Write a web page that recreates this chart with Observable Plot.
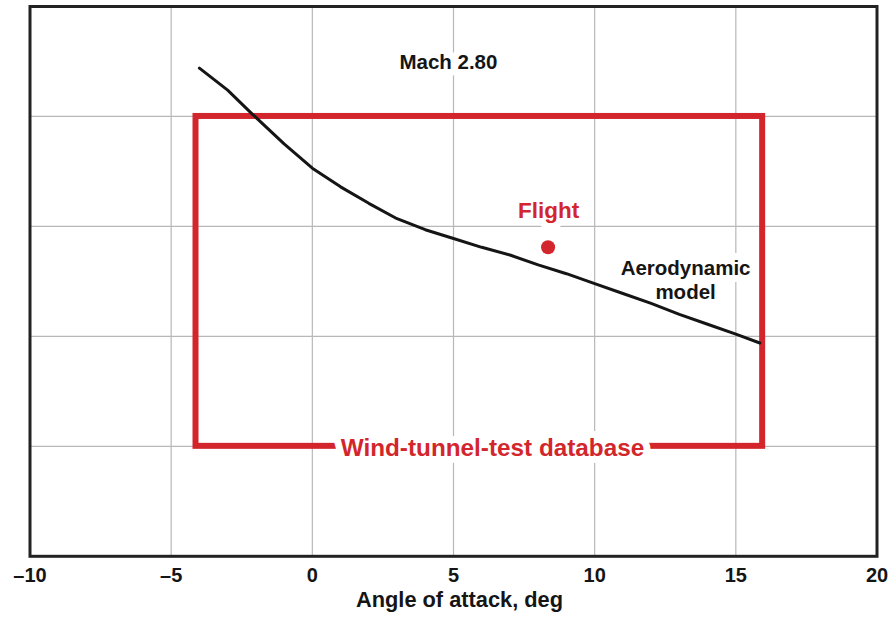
<!DOCTYPE html>
<html>
<head>
<meta charset="utf-8">
<script src="https://cdn.jsdelivr.net/npm/d3@7"></script>
<script src="https://cdn.jsdelivr.net/npm/@observablehq/plot@0.6"></script>
<style>
  body { margin: 0; background: #fff; }
</style>
</head>
<body>
<div id="chart"></div>
<script>
// Aerodynamic-model curve, Mach 2.80: coefficient vs angle of attack (deg)
const modelAlpha = [-4.0, -3.0, -2.2, -1.0, 0, 1, 2, 3, 4, 5, 6, 7, 8, 9, 10, 11, 12, 13, 14, 15, 15.85];
const modelCoef  = [4.44, 4.24, 4.04, 3.75, 3.53, 3.36, 3.21, 3.07, 2.97, 2.89, 2.81, 2.74, 2.65, 2.57, 2.48, 2.39, 2.30, 2.20, 2.11, 2.02, 1.94];

// Flight measurement
const flightAlpha = [8.35];
const flightCoef  = [2.81];

// Extent of the wind-tunnel-test database
const tunnelAlpha = [-4.12, 15.95];
const tunnelCoef  = [1.0, 4.0];

// Axis ticks and grid
const xTicks = [-10, -5, 0, 5, 10, 15, 20];
const yGrid  = [1, 2, 3, 4];

// Annotations
const machText   = ["Mach 2.80"];
const machAt     = [4.82, 4.49];
const flightText = ["Flight"];
const flightAt   = [8.37, 3.14];
const modelText  = ["Aerodynamic\nmodel"];
const modelAt    = [13.22, 2.515];
const tunnelText = ["Wind-tunnel-test database"];
const tunnelAt   = [6.38, 0.985];
const xTitle     = "Angle of attack, deg";

const RED = "#d3262c";
const INK = "#151515";

const model = modelAlpha.map((a, i) => ({alpha: a, coef: modelCoef[i]}));
const flight = flightAlpha.map((a, i) => ({alpha: a, coef: flightCoef[i]}));
const tunnel = [{x1: tunnelAlpha[0], x2: tunnelAlpha[1], y1: tunnelCoef[0], y2: tunnelCoef[1]}];

// Text on a white halo, so it cuts through grid lines and the box outline
const note = (text, at, opts) => Plot.text(text, {
  x: () => at[0], y: () => at[1], text: d => d,
  textAnchor: "middle", lineAnchor: "middle", fontWeight: "bold",
  stroke: "white", strokeWidth: 14, strokeLinejoin: "round", paintOrder: "stroke",
  ...opts
});

const chart = Plot.plot({
  width: 894,
  height: 618,
  marginLeft: 29.5,
  marginRight: 17.5,
  marginTop: 6,
  marginBottom: 62.2,
  style: {fontFamily: "'Liberation Sans', Arial, Helvetica, sans-serif", background: "white", color: INK},
  x: {domain: [-10, 20]},
  y: {domain: [0, 5]},
  marks: [
    Plot.gridX(xTicks, {stroke: "#b8b8b8", strokeOpacity: 1, strokeWidth: 1.2}),
    Plot.gridY(yGrid, {stroke: "#b8b8b8", strokeOpacity: 1, strokeWidth: 1.2}),
    Plot.rect(tunnel, {x1: "x1", x2: "x2", y1: "y1", y2: "y2", fill: "none", stroke: RED, strokeWidth: 6}),
    note(machText, machAt, {fill: INK, fontSize: 20.5}),
    note(flightText, flightAt, {fill: RED, fontSize: 22.5}),
    note(modelText, modelAt, {fill: INK, fontSize: 20.5, lineHeight: 1.17}),
    note(tunnelText, tunnelAt, {fill: RED, fontSize: 24.3}),
    Plot.line(model, {x: "alpha", y: "coef", stroke: INK, strokeWidth: 3}),
    Plot.dot(flight, {x: "alpha", y: "coef", r: 7, fill: RED}),
    Plot.axisX(xTicks, {
      tickSize: 0, tickPadding: 11, fontSize: 20, fontWeight: "bold", fill: INK,
      tickFormat: d => d < 0 ? "\u2013" + Math.abs(d) : String(d),
      label: null
    }),
    Plot.axisY({ticks: [], label: null}),
    Plot.text([xTitle], {frameAnchor: "bottom", dy: 43.5, dx: 6, text: d => d, fontSize: 21.8, fontWeight: "bold", fill: INK, lineAnchor: "middle"}),
    Plot.frame({stroke: "#222", strokeWidth: 3})
  ]
});

document.getElementById("chart").append(chart);
</script>
</body>
</html>
